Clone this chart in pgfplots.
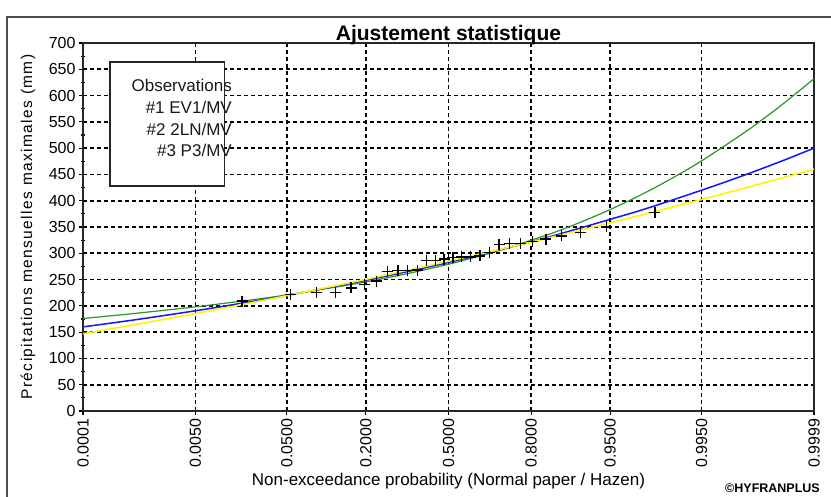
\documentclass[border=0pt]{standalone}
\usepackage{fontspec}
\setmainfont{Liberation Sans}
\usepackage{pgfplots}
\usepackage{pgfplotstable}
\pgfplotsset{compat=1.18}
\definecolor{fitgreen}{RGB}{40,150,40}
\definecolor{fitblue}{RGB}{20,20,255}
\definecolor{fityellow}{RGB}{255,245,0}

% observations: z = normal quantile of Hazen plotting position, value in mm
\pgfplotstableread{
z v
-2.100 209
-1.611 222
-1.345 225
-1.150 225
-0.992 234
-0.854 241
-0.732 247
-0.619 265
-0.514 267
-0.414 267
-0.319 268
-0.226 286
-0.135 286
-0.045 289
0.045 292
0.135 293
0.226 293
0.319 295
0.414 302
0.514 317
0.619 318
0.732 318
0.854 322
0.992 327
1.150 333
1.345 340
1.611 350
2.100 378
}\obs

\pgfplotstableread{
z v
-3.719 176.0
-3.4 181.7
-3.2 185.4
-2.576 198.1
-2.0 211.5
-1.645 220.8
-1.0 240.3
-0.5 258.1
0.0 279.2
0.5 304.4
1.0 334.7
1.3 355.8
1.645 383.1
2.0 415.1
2.3 445.4
2.576 475.9
3.0 528.2
3.2 555.2
3.4 583.6
3.719 632.0
}\evone

\pgfplotstableread{
z v
-3.719 160.0
-3.2 173.2
-2.576 190.6
-2.0 208.2
-1.645 219.8
-1.0 242.7
-0.5 261.9
0.0 282.6
0.5 305.5
1.0 329.8
1.645 364.6
2.0 384.3
2.576 420.0
3.0 447.9
3.4 476.1
3.719 500.0
}\twoln

\pgfplotstableread{
z v
-3.719 147.0
-3.2 164.0
-2.576 185.5
-2.0 206.2
-1.645 219.4
-1.0 244.2
-0.5 264.3
0.0 285.0
0.5 306.4
1.0 328.4
1.645 357.8
2.0 374.5
2.576 402.3
3.0 423.3
3.4 443.6
3.719 460.0
}\pthree

\begin{document}
\begin{tikzpicture}[x=1pt,y=1pt]
\useasboundingbox (0,0) rectangle (831,497);
\fill[white] (0,0) rectangle (831,497);
\draw[line width=2pt, black!70] (7,-5) -- (7,480) -- (840,480);
\begin{axis}[
  at={(83pt,86pt)}, anchor=south west,
  scale only axis, width=731pt, height=368pt,
  xmin=-3.719, xmax=3.719, ymin=0, ymax=700,
  xtick={-3.719,-2.5758,-1.6449,-0.8416,0,0.8416,1.6449,2.5758,3.719},
  xticklabels={0.0001,0.0050,0.0500,0.2000,0.5000,0.8000,0.9500,0.9950,0.9999},
  ytick={0,50,...,700},
  minor y tick num=1,
  xtick pos=bottom, ytick pos=left,
  tick align=center,
  major tick length=8pt, minor tick length=4pt,
  tick style={black, line width=1.1pt},
  xmajorgrids=true, ymajorgrids=true,
  major grid style={draw=black, line width=1.6pt, dash pattern=on 4pt off 3pt},
  axis line style={black!85, line width=1.6pt},
  /pgf/number format/assume math mode=true,
  xticklabel style={rotate=90, anchor=east, font=\fontsize{16}{18}\selectfont},
  yticklabel style={font=\fontsize{16}{18}\selectfont},
  title={Ajustement statistique},
  title style={font=\bfseries\fontsize{21}{24}\selectfont, at={(0.5,1)}, anchor=south, yshift=-11pt},
  xlabel={Non-exceedance probability (Normal paper / Hazen)},
  xlabel style={font=\fontsize{17}{20}\selectfont, at={(axis description cs:0.5,-0.2038)}, anchor=base},
  ylabel={Précipitations mensuelles maximales (mm)},
  ylabel style={font=\addfontfeature{LetterSpace=9}\fontsize{15.5}{18}\selectfont, at={(axis description cs:-0.0752,0.5)}, anchor=center},
  clip=true,
]
\addplot[fitgreen, line width=1.2pt, smooth] table[x=z, y=v] {\evone};
\addplot[fitblue, line width=1.5pt, smooth] table[x=z, y=v] {\twoln};
\addplot[fityellow, line width=1.6pt, smooth] table[x=z, y=v] {\pthree};
\addplot[only marks, mark=+, mark size=5.5pt, mark options={line width=1.3pt, black}] table[x=z, y=v] {\obs};
\draw[black!85, line width=1.3pt, fill=white] (rel axis cs:0.037,0.948) rectangle (rel axis cs:0.194,0.611);
\node[anchor=east, font=\fontsize{17}{20}\selectfont, inner sep=0pt, text=black!90] at (rel axis cs:0.2038,0.8859) {Observations};
\node[anchor=east, font=\fontsize{17}{20}\selectfont, inner sep=0pt, text=black!90] at (rel axis cs:0.2038,0.8253) {\#1 EV1/MV};
\node[anchor=east, font=\fontsize{17}{20}\selectfont, inner sep=0pt, text=black!90] at (rel axis cs:0.2038,0.7655) {\#2 2LN/MV};
\node[anchor=east, font=\fontsize{17}{20}\selectfont, inner sep=0pt, text=black!90] at (rel axis cs:0.2038,0.7092) {\#3 P3/MV};
\end{axis}
\node[anchor=base east, font=\bfseries\fontsize{12.5}{14}\selectfont, inner sep=0pt] at (820,4) {©HYFRANPLUS};
\end{tikzpicture}
\end{document}
